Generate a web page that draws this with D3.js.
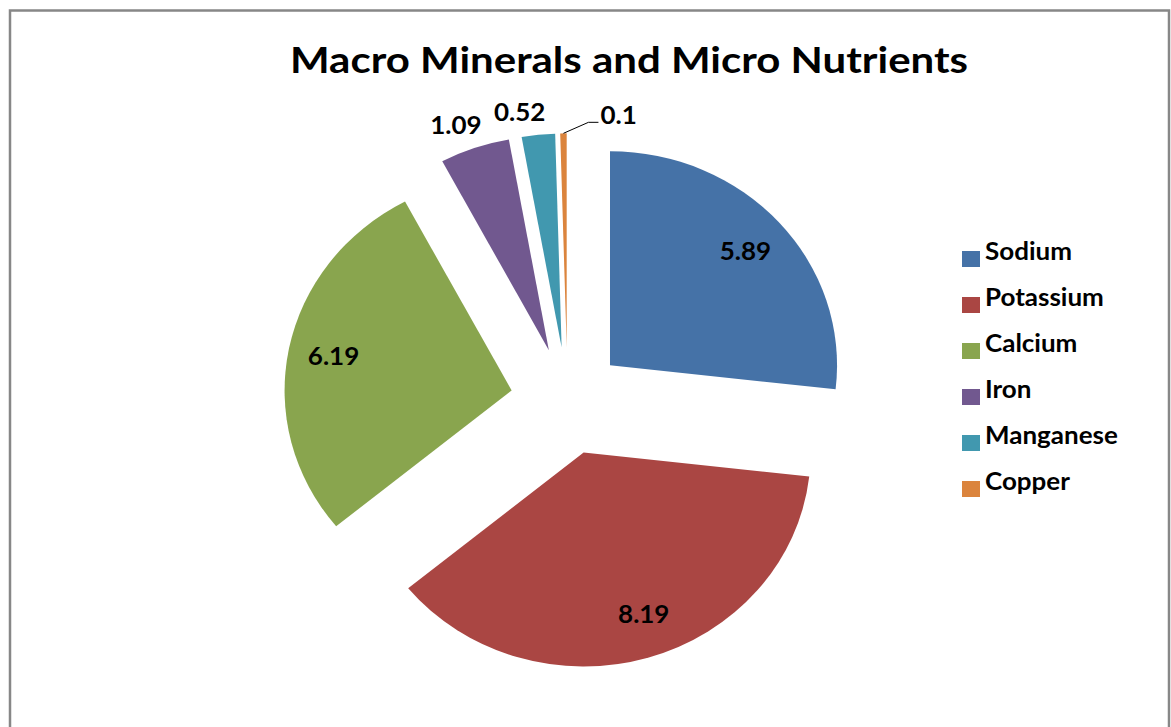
<!DOCTYPE html>
<html>
<head>
<meta charset="utf-8">
<script src="https://cdn.jsdelivr.net/npm/d3@7"></script>
<style>
  html, body { margin: 0; padding: 0; background: #fff; }
  svg { display: block; }
  text { font-family: Lato, "Open Sans", sans-serif; font-weight: bold; fill: #000; }
</style>
</head>
<body>
<svg id="chart" width="1171" height="727"></svg>
<script>
const title = "Macro Minerals and Micro Nutrients";
const categories = ["Sodium", "Potassium", "Calcium", "Iron", "Manganese", "Copper"];
const values = [5.89, 8.19, 6.19, 1.09, 0.52, 0.1];
const labels = ["5.89", "8.19", "6.19", "1.09", "0.52", "0.1"];
const colors = ["#4572A7", "#AA4643", "#89A54E", "#71588F", "#4198AF", "#DB843D"];

const W = 1171, H = 727;
const svg = d3.select("#chart");

// frame
svg.append("rect")
  .attr("x", 10).attr("y", 10.5)
  .attr("width", 1159).attr("height", 740)
  .attr("fill", "#fff").attr("stroke", "#878787").attr("stroke-width", 2.5);

// title
svg.append("text")
  .attr("x", 629).attr("y", 73)
  .attr("text-anchor", "middle")
  .attr("font-size", 36)
  .attr("textLength", 678).attr("lengthAdjust", "spacingAndGlyphs")
  .text(title);

const cx = 567.5, cy = 401, r = 214, sx = 1.061, explode = 53.7;

const data = categories.map((c, i) => ({ name: c, value: values[i], label: labels[i], color: colors[i] }));
const pie = d3.pie().sort(null).value(d => d.value).startAngle(0).endAngle(2 * Math.PI);
const arcs = pie(data);
const arc = d3.arc().innerRadius(0).outerRadius(r);

const g = svg.append("g").attr("transform", `translate(${cx},${cy})`);

function polar(a, dist) { return [Math.sin(a) * dist * sx, -Math.cos(a) * dist]; }

arcs.forEach(a => {
  const mid = (a.startAngle + a.endAngle) / 2;
  const [ox, oy] = polar(mid, explode);
  a.mid = mid; a.ox = ox; a.oy = oy;
  g.append("path")
    .attr("transform", `translate(${ox},${oy}) scale(${sx},1)`)
    .attr("d", arc(a))
    .attr("fill", a.data.color);
});

function stretchedText(parent, x, y, anchor, size, str) {
  return parent.append("text")
    .attr("transform", `translate(${x},${y}) scale(${sx},1)`)
    .attr("text-anchor", anchor)
    .attr("font-size", size)
    .text(str);
}

// data labels: inside (best fit) for large slices, outside for small ones
arcs.forEach((a, i) => {
  const share = a.data.value / d3.sum(values);
  if (share > 0.1) {
    const angle = a.mid - (i === 1 ? 0.05 : 0);
    const [px, py] = polar(angle, r * 0.80);
    stretchedText(g, a.ox + px, a.oy + py + 8.5, "middle", 24.5, a.data.label);
  } else if (share > 0.02) {
    const [px, py] = polar(a.mid, r);
    stretchedText(g, a.ox + px + 7, a.oy + py - 14, "end", 24.5, a.data.label);
  } else {
    const [p0x, p0y] = polar(a.mid, r);
    const x0 = a.ox + p0x, y0 = a.oy + p0y;
    const x1 = x0 + 25, y1 = y0 - 11;
    const x2 = x1 + 10;
    g.append("path")
      .attr("d", `M${x0},${y0}L${x1},${y1}L${x2},${y1}`)
      .attr("fill", "none").attr("stroke", "#000").attr("stroke-width", 1);
    stretchedText(g, x2 + 2, y1 + 2, "start", 24.5, a.data.label);
  }
});

// legend
const legend = svg.append("g").attr("transform", "translate(962,260)");
const item = legend.selectAll("g").data(data).join("g")
  .attr("transform", (d, i) => `translate(0,${i * 46})`);
item.append("rect")
  .attr("x", 0).attr("y", -9).attr("width", 18).attr("height", 16)
  .attr("fill", d => d.color);
item.append("text")
  .attr("transform", `translate(23,0) scale(${sx},1)`)
  .attr("font-size", 24.5)
  .text(d => d.name);
</script>
</body>
</html>
